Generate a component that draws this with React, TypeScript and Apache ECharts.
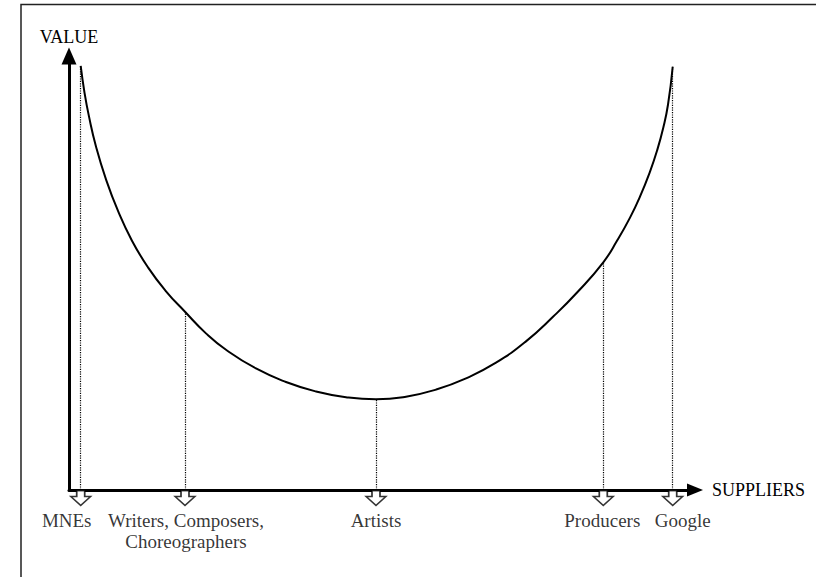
import React, { useEffect, useRef } from "react";
import * as echarts from "echarts";

// Value-chain "smile" curve (arbitrary units 0..100 on both axes)
const curveX = [1.87, 2.48, 3.19, 4.31, 5.91, 7.83, 10.06, 12.62, 15.5, 18.53, 21.88, 25.08, 29.87, 34.66, 39.46, 44.25, 49.04,
  53.83, 58.63, 63.42, 68.21, 73.0, 77.36, 81.31, 85.35, 87.54, 89.62, 91.21, 92.81, 93.93, 94.94, 95.69, 96.44];
const curveY = [97.7, 91.52, 86.08, 79.15, 71.57, 64.29, 57.44, 51.29, 45.78, 41.08, 36.09, 32.31, 28.0, 24.89, 22.7, 21.38, 20.9,
  21.5, 23.13, 25.72, 29.34, 34.25, 39.96, 45.73, 52.47, 57.41, 62.76, 67.6, 73.36, 78.16, 83.53, 88.82, 97.53];

const supplierNames = ["MNEs", "Writers, Composers,\nChoreographers", "Artists", "Producers", "Google"];
const supplierX = [1.87, 18.53, 49.04, 85.35, 96.44];
const supplierValue = [97.7, 41.08, 20.9, 52.47, 97.53];

const xAxisName = "SUPPLIERS";
const yAxisName = "VALUE";

// layout: horizontal shift (px) of each supplier label relative to its arrow
const labelShift = [-14, 1, 0, -1, 10];

const FONT = "'Liberation Serif', 'Times New Roman', serif";
const hollowArrow = "path://M6,0 L14,0 L14,6 L20,6 L10,15 L0,6 L6,6 Z";

export default function App() {
  const ref = useRef<HTMLDivElement>(null);
  useEffect(() => {
    if (!ref.current) return;
    const chart = echarts.init(ref.current, null, { renderer: "svg" });
    const curve = curveX.map((x, i) => [x, curveY[i]]);
    chart.setOption({
      animation: false,
      backgroundColor: "#fff",
      grid: { left: 69, top: 56, width: 626, height: 434 },
      xAxis: {
        type: "value",
        min: 0,
        max: 100,
        name: xAxisName,
        nameLocation: "end",
        nameGap: 17,
        nameTextStyle: { fontFamily: FONT, fontSize: 18, color: "#000", align: "left", verticalAlign: "middle" },
        axisLine: { show: true, symbol: ["none", "triangle"], symbolSize: [13, 16], lineStyle: { color: "#000", width: 3 } },
        axisTick: { show: false },
        axisLabel: { show: false },
        splitLine: { show: false },
      },
      yAxis: {
        type: "value",
        min: 0,
        max: 100,
        name: yAxisName,
        nameLocation: "end",
        nameGap: 10,
        nameTextStyle: { fontFamily: FONT, fontSize: 18, color: "#000", align: "center" },
        axisLine: { show: true, symbol: ["none", "triangle"], symbolSize: [15, 17], lineStyle: { color: "#000", width: 3 } },
        axisTick: { show: false },
        axisLabel: { show: false },
        splitLine: { show: false },
      },
      graphic: [
        {
          type: "rect",
          silent: true,
          shape: { x: 21, y: 4.5, width: 900, height: 700 },
          style: { fill: "none", stroke: "#222", lineWidth: 1.5 },
        },
      ],
      series: [
        {
          type: "line",
          data: curve,
          smooth: 0.5,
          symbol: "none",
          clip: false,
          lineStyle: { color: "#000", width: 2 },
          markLine: {
            silent: true,
            symbol: ["none", "none"],
            label: { show: false },
            lineStyle: { type: "dotted", color: "#000", width: 1.2 },
            data: supplierX.map((x, i) => [{ coord: [x, 0] }, { coord: [x, supplierValue[i]] }]),
          },
          z: 3,
        },
        {
          type: "scatter",
          clip: false,
          symbol: hollowArrow,
          symbolSize: [20, 15],
          symbolOffset: [0, 8],
          itemStyle: { color: "#fff", borderColor: "#000", borderWidth: 1.5 },
          data: supplierX.map((x, i) => ({
            value: [x, 0],
            name: supplierNames[i],
            label: { offset: [labelShift[i], 0] },
          })),
          label: {
            show: true,
            position: "bottom",
            distance: 4,
            formatter: "{b}",
            fontFamily: FONT,
            fontSize: 19,
            lineHeight: 21,
            color: "#000",
            align: "center",
          },
          z: 4,
        },
      ],
    });
    return () => chart.dispose();
  }, []);
  return <div ref={ref} style={{ position: "absolute", left: 0, top: 0, width: 816, height: 577 }} />;
}
